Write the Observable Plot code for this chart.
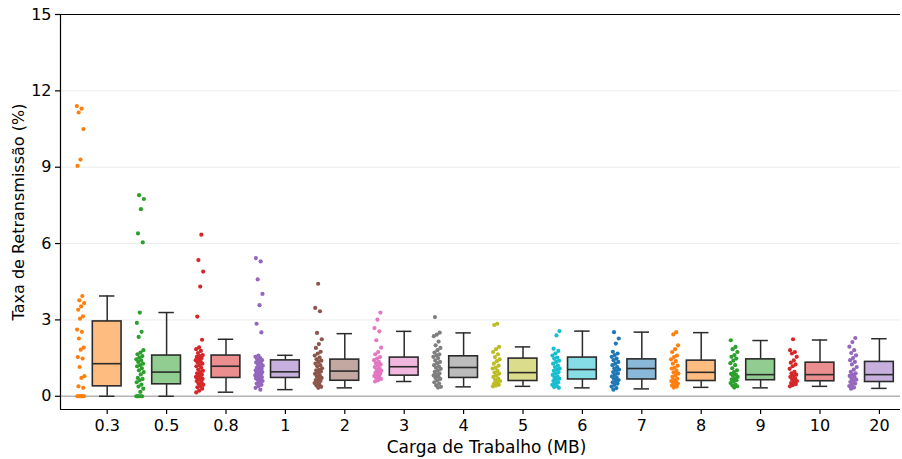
<!DOCTYPE html>
<html>
<head>
<meta charset="utf-8">
<script src="https://cdn.jsdelivr.net/npm/d3@7"></script>
<script src="https://cdn.jsdelivr.net/npm/@observablehq/plot@0.6"></script>
<style>
  html, body { margin: 0; padding: 0; background: #fff; }
  #chart svg { display: block; }
</style>
</head>
<body>
<div id="chart"></div>
<script>
// Workload categories (MB)
const categories = ["0.3", "0.5", "0.8", "1", "2", "3", "4", "5", "6", "7", "8", "9", "10", "20"];

// Retransmission rate (%) observed for each workload
const rate03 = [11.4, 11.3, 11.15, 10.5, 9.3, 9.05, 3.94, 3.77, 3.66, 3.53, 3.4, 3.14, 3.05, 2.62, 2.53, 2.27, 1.91, 1.83, 1.54, 1.48, 1.15, 0.79, 0.72, 0.39, 0.33, 0, 0, 0, 0, 0, 0, 0, 0];
const rate05 = [7.9, 7.75, 7.35, 6.4, 6.05, 3.29, 2.88, 2.53, 2.33, 1.81, 1.72, 1.65, 1.58, 1.52, 1.45, 1.41, 1.35, 1.28, 1.22, 1.18, 1.1, 1.02, 0.95, 0.86, 0.72, 0.68, 0.63, 0.55, 0.46, 0.38, 0.3, 0.17, 0, 0, 0, 0, 0, 0];
const rate08 = [6.35, 5.35, 4.9, 4.31, 3.13, 2.22, 1.92, 1.85, 1.78, 1.7, 1.62, 1.58, 1.55, 1.5, 1.47, 1.42, 1.38, 1.33, 1.28, 1.22, 1.18, 1.12, 1.05, 1.0, 0.95, 0.9, 0.85, 0.8, 0.76, 0.73, 0.7, 0.68, 0.65, 0.6, 0.55, 0.5, 0.45, 0.4, 0.35, 0.3, 0.22, 0.15];
const rate1 = [5.43, 5.3, 4.59, 4.02, 3.58, 2.85, 2.51, 1.6, 1.55, 1.5, 1.45, 1.42, 1.38, 1.33, 1.3, 1.25, 1.2, 1.15, 1.12, 1.08, 1.05, 1.02, 1.0, 0.98, 0.95, 0.92, 0.9, 0.87, 0.85, 0.82, 0.8, 0.78, 0.75, 0.72, 0.7, 0.67, 0.64, 0.6, 0.55, 0.5, 0.45, 0.4, 0.33, 0.26];
const rate2 = [4.42, 3.47, 3.34, 2.49, 2.24, 2.05, 1.9, 1.75, 1.68, 1.6, 1.52, 1.45, 1.4, 1.35, 1.28, 1.22, 1.18, 1.1, 1.05, 1.02, 0.97, 0.92, 0.88, 0.82, 0.78, 0.72, 0.69, 0.64, 0.6, 0.56, 0.52, 0.46, 0.42, 0.37, 0.33];
const rate3 = [3.29, 3.01, 2.68, 2.55, 2.2, 1.91, 1.74, 1.65, 1.54, 1.48, 1.42, 1.35, 1.3, 1.25, 1.2, 1.15, 1.1, 1.05, 1.0, 0.96, 0.92, 0.88, 0.84, 0.8, 0.76, 0.72, 0.68, 0.63, 0.58];
const rate4 = [3.11, 2.5, 2.42, 2.36, 2.15, 2.0, 1.9, 1.81, 1.72, 1.65, 1.61, 1.55, 1.5, 1.41, 1.35, 1.3, 1.22, 1.18, 1.12, 1.08, 1.02, 0.96, 0.9, 0.86, 0.82, 0.78, 0.72, 0.68, 0.63, 0.55, 0.5, 0.43, 0.37, 0.34];
const rate5 = [2.85, 2.8, 1.94, 1.85, 1.74, 1.65, 1.54, 1.45, 1.38, 1.28, 1.2, 1.12, 1.09, 1.0, 0.93, 0.89, 0.82, 0.76, 0.69, 0.64, 0.6, 0.55, 0.5, 0.45, 0.42, 0.39];
const rate6 = [2.56, 2.39, 1.87, 1.78, 1.68, 1.6, 1.52, 1.48, 1.4, 1.35, 1.28, 1.2, 1.15, 1.09, 1.05, 1.0, 0.95, 0.89, 0.84, 0.78, 0.72, 0.69, 0.64, 0.6, 0.55, 0.5, 0.45, 0.4, 0.36, 0.33];
const rate7 = [2.52, 2.27, 2.07, 1.75, 1.68, 1.62, 1.55, 1.48, 1.42, 1.35, 1.28, 1.22, 1.15, 1.09, 1.05, 1.0, 0.95, 0.89, 0.84, 0.78, 0.72, 0.69, 0.64, 0.6, 0.55, 0.5, 0.45, 0.38, 0.32, 0.26];
const rate8 = [2.52, 2.43, 2.0, 1.85, 1.74, 1.6, 1.54, 1.45, 1.38, 1.28, 1.2, 1.12, 1.09, 1.0, 0.94, 0.89, 0.82, 0.76, 0.69, 0.64, 0.6, 0.56, 0.52, 0.5, 0.46, 0.42, 0.38, 0.34];
const rate9 = [2.2, 1.94, 1.85, 1.74, 1.62, 1.55, 1.48, 1.4, 1.3, 1.22, 1.1, 1.02, 0.95, 0.88, 0.85, 0.82, 0.76, 0.7, 0.66, 0.63, 0.58, 0.52, 0.46, 0.42, 0.39, 0.34];
const rate10 = [2.24, 1.81, 1.74, 1.68, 1.55, 1.41, 1.32, 1.25, 1.18, 1.08, 0.96, 0.9, 0.85, 0.8, 0.76, 0.7, 0.65, 0.6, 0.56, 0.52, 0.48, 0.44, 0.39];
const rate20 = [2.29, 2.13, 1.95, 1.81, 1.7, 1.61, 1.5, 1.42, 1.35, 1.25, 1.15, 1.05, 0.96, 0.9, 0.85, 0.8, 0.76, 0.7, 0.65, 0.6, 0.56, 0.5, 0.45, 0.4, 0.34, 0.3];

// Box summary per workload: whisker ends, quartiles and median (%)
const whiskerLow  = [0, 0, 0.16, 0.26, 0.33, 0.58, 0.37, 0.39, 0.33, 0.29, 0.35, 0.33, 0.39, 0.31];
const quartile1   = [0.39, 0.47, 0.72, 0.72, 0.61, 0.81, 0.72, 0.60, 0.66, 0.66, 0.60, 0.63, 0.59, 0.56];
const median      = [1.28, 0.95, 1.18, 0.96, 0.99, 1.16, 1.13, 0.93, 1.05, 1.09, 0.94, 0.85, 0.85, 0.85];
const quartile3   = [2.94, 1.60, 1.60, 1.41, 1.44, 1.52, 1.57, 1.48, 1.52, 1.45, 1.40, 1.45, 1.32, 1.35];
const whiskerHigh = [3.94, 3.29, 2.24, 1.61, 2.46, 2.55, 2.49, 1.94, 2.56, 2.52, 2.50, 2.19, 2.21, 2.26];

const yTicks = [0, 3, 6, 9, 12, 15];

const series = [rate03, rate05, rate08, rate1, rate2, rate3, rate4, rate5, rate6, rate7, rate8, rate9, rate10, rate20];
const palette = d3.schemeCategory10;
const colorOf = i => palette[(i + 1) % 10];

// Strip of observations sits to the left of each box, with a small deterministic spread
const stripOffset = -0.446;
const spread = 0.13;
const points = series.flatMap((vals, i) =>
  vals.map((v, k) => ({
    i,
    v,
    x: i + stripOffset + (((k * 0.6180339887 + i * 0.37) % 1) - 0.5) * spread
  }))
);

const boxes = categories.map((c, i) => ({
  i,
  lo: whiskerLow[i],
  q1: quartile1[i],
  med: median[i],
  q3: quartile3[i],
  hi: whiskerHigh[i]
}));

const halfBox = 0.242;
const halfCap = 0.13;
const ink = "#2b2b2b";
const xDomain = [-0.786, 13.355];
const yDomain = [-0.52, 15];

const chart = Plot.plot({
  width: 902,
  height: 459,
  marginTop: 14,
  marginBottom: 50,
  marginLeft: 60,
  marginRight: 2,
  style: { fontFamily: "DejaVu Sans, sans-serif", fontSize: "16px", color: "#000", background: "#fff" },
  x: { type: "linear", domain: xDomain },
  y: { type: "linear", domain: yDomain },
  marks: [
    // light horizontal grid
    Plot.ruleY(yTicks.filter(t => t > 0 && t < 15), { stroke: "#ececec", strokeWidth: 1 }),
    // zero reference line
    Plot.ruleY([0], { stroke: "#b3b3b3", strokeWidth: 1.6 }),
    // observations
    Plot.dot(points, { x: "x", y: "v", r: 2.1, fill: d => colorOf(d.i), stroke: "none" }),
    // whiskers
    Plot.ruleX(boxes, { x: "i", y1: "lo", y2: "q1", stroke: ink, strokeWidth: 1.5 }),
    Plot.ruleX(boxes, { x: "i", y1: "q3", y2: "hi", stroke: ink, strokeWidth: 1.5 }),
    Plot.ruleY(boxes, { y: "lo", x1: d => d.i - halfCap, x2: d => d.i + halfCap, stroke: ink, strokeWidth: 1.5 }),
    Plot.ruleY(boxes, { y: "hi", x1: d => d.i - halfCap, x2: d => d.i + halfCap, stroke: ink, strokeWidth: 1.5 }),
    // boxes
    Plot.rect(boxes, {
      x1: d => d.i - halfBox, x2: d => d.i + halfBox, y1: "q1", y2: "q3",
      fill: d => colorOf(d.i), fillOpacity: 0.52, stroke: ink, strokeWidth: 1.6
    }),
    // medians
    Plot.ruleY(boxes, { y: "med", x1: d => d.i - halfBox, x2: d => d.i + halfBox, stroke: ink, strokeWidth: 1.6 }),
    // axes
    Plot.axisY({ ticks: yTicks, tickSize: 5, tickPadding: 4, label: null, fontSize: 16, stroke: "#000", strokeWidth: 1.2 }),
    Plot.axisX({
      ticks: d3.range(categories.length), tickFormat: i => categories[i],
      tickSize: 5, tickPadding: 5, label: null, fontSize: 16, stroke: "#000", strokeWidth: 1.2
    }),
    // spines: left, top and bottom (the right one falls past the page edge)
    Plot.ruleX([xDomain[0]], { stroke: "#000", strokeWidth: 1.2 }),
    Plot.ruleY([yDomain[0], yDomain[1]], { stroke: "#000", strokeWidth: 1.2 }),
    // axis titles
    Plot.text(["Carga de Trabalho (MB)"], { frameAnchor: "bottom", dx: 6, dy: 43, fontSize: 17, fill: "#000" }),
    Plot.text(["Taxa de Retransmissão (%)"], {
      frameAnchor: "left", textAnchor: "middle", dx: -42, rotate: -90, fontSize: 16, fill: "#000"
    })
  ]
});

document.getElementById("chart").appendChild(chart);
</script>
</body>
</html>
